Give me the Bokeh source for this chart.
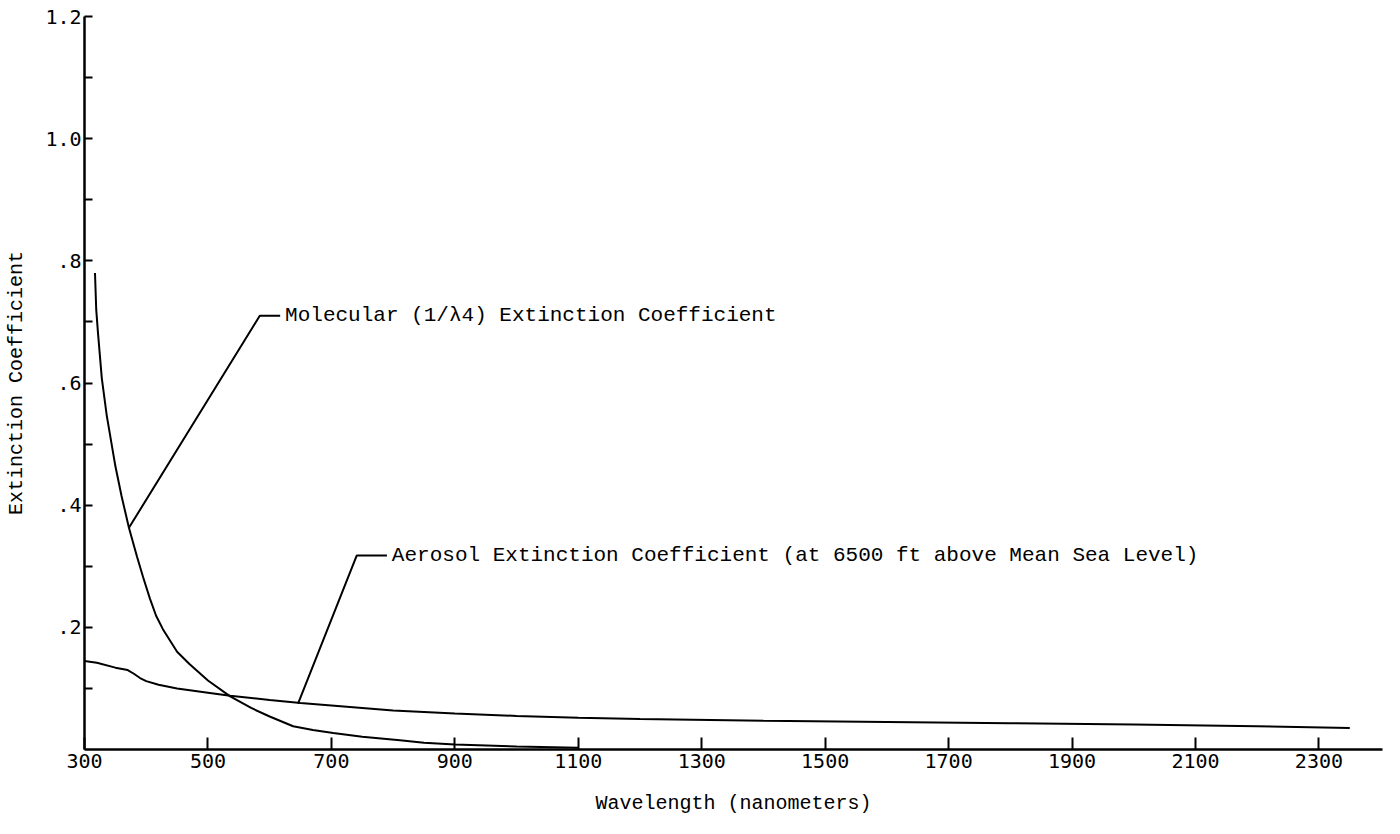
from bokeh.plotting import figure
from bokeh.models import Range1d, FixedTicker, CustomJSTickFormatter, Label
from bokeh.embed import file_html
from bokeh.resources import INLINE

# ---- data ----
mol_wl = [317, 319, 322, 328, 336, 350, 360, 372, 385, 395, 406, 416, 427, 450, 470, 500, 536, 570, 600, 638, 670, 703, 750, 811, 850, 900, 1000, 1100]
mol_v = [0.78, 0.72, 0.68, 0.608, 0.547, 0.464, 0.415, 0.363, 0.316, 0.282, 0.247, 0.219, 0.197, 0.160, 0.140, 0.113, 0.087, 0.068, 0.054, 0.038, 0.032, 0.027, 0.021, 0.015, 0.011, 0.008, 0.005, 0.003]

aer_wl = [300, 320, 350, 370, 380, 390, 400, 420, 450, 500, 536, 600, 650, 700, 800, 900, 1000, 1100, 1200, 1400, 1600, 1800, 2000, 2200, 2350]
aer_v = [0.145, 0.142, 0.134, 0.130, 0.124, 0.117, 0.112, 0.106, 0.100, 0.093, 0.088, 0.081, 0.076, 0.072, 0.064, 0.059, 0.055, 0.052, 0.050, 0.047, 0.045, 0.043, 0.041, 0.038, 0.035]

x_ticks = [300, 500, 700, 900, 1100, 1300, 1500, 1700, 1900, 2100, 2300]
y_ticks = [0.2, 0.4, 0.6, 0.8, 1.0, 1.2]
y_minor = [0.1, 0.3, 0.5, 0.7, 0.9, 1.1]

mol_label = "Molecular (1/\u03bb4) Extinction Coefficient"
aer_label = "Aerosol Extinction Coefficient (at 6500 ft above Mean Sea Level)"
# leader lines: curve point -> elbow -> end of horizontal
mol_leader_x = [372, 584, 617]
mol_leader_y = [0.363, 0.710, 0.710]
aer_leader_x = [646, 741, 790]
aer_leader_y = [0.075, 0.3175, 0.3175]

FONT = "Liberation Mono"
TICKFONT = "DejaVu Sans Mono"

p = figure(width=1384, height=818, output_backend="svg", toolbar_location=None,
           x_range=Range1d(300, 2403), y_range=Range1d(0, 1.2),
           min_border_left=84, min_border_right=2, min_border_top=16, min_border_bottom=69)
p.grid.visible = False
p.outline_line_color = None
p.background_fill_color = "white"

# axes
xa = p.xaxis[0]
xa.ticker = FixedTicker(ticks=x_ticks, minor_ticks=[])
xa.axis_line_width = 2.5
xa.axis_line_color = "black"
xa.major_tick_in = 12
xa.major_tick_out = 0
xa.major_tick_line_width = 2
xa.minor_tick_in = 0
xa.minor_tick_out = 0
xa.major_label_text_font = TICKFONT
xa.major_label_text_font_size = "20px"
xa.major_label_text_color = "black"
xa.major_label_standoff = 4
xa.axis_label = "Wavelength (nanometers)"
xa.axis_label_text_font = FONT
xa.axis_label_text_font_size = "20px"
xa.axis_label_text_font_style = "normal"
xa.axis_label_text_color = "black"
xa.axis_label_standoff = 21

ya = p.yaxis[0]
ya.ticker = FixedTicker(ticks=y_ticks, minor_ticks=y_minor)
ya.formatter = CustomJSTickFormatter(code="""
    const s = tick.toFixed(1);
    return tick < 1 ? s.replace(/^0/, '') : s;
""")
ya.axis_line_width = 2.5
ya.axis_line_color = "black"
ya.major_tick_in = 8
ya.major_tick_out = 0
ya.major_tick_line_width = 2
ya.minor_tick_in = 8
ya.minor_tick_out = 0
ya.minor_tick_line_width = 2
ya.major_label_text_font = TICKFONT
ya.major_label_text_font_size = "20px"
ya.major_label_text_color = "black"
ya.major_label_standoff = 3
ya.axis_label = "Extinction Coefficient"
ya.axis_label_text_font = FONT
ya.axis_label_text_font_size = "20px"
ya.axis_label_text_font_style = "normal"
ya.axis_label_text_color = "black"
ya.axis_label_standoff = 14

# curves
p.line(mol_wl, mol_v, line_color="black", line_width=2)
p.line(aer_wl, aer_v, line_color="black", line_width=2)

# leaders and annotations
p.line(mol_leader_x, mol_leader_y, line_color="black", line_width=2)
p.line(aer_leader_x, aer_leader_y, line_color="black", line_width=2)
p.add_layout(Label(x=mol_leader_x[-1] + 8, y=mol_leader_y[-1], text=mol_label,
                   text_font=FONT, text_font_size="21px", text_baseline="middle",
                   text_align="left", text_color="black"))
p.add_layout(Label(x=aer_leader_x[-1] + 8, y=aer_leader_y[-1], text=aer_label,
                   text_font=FONT, text_font_size="21px", text_baseline="middle",
                   text_align="left", text_color="black"))

open("out.html", "w").write(file_html(p, INLINE))
